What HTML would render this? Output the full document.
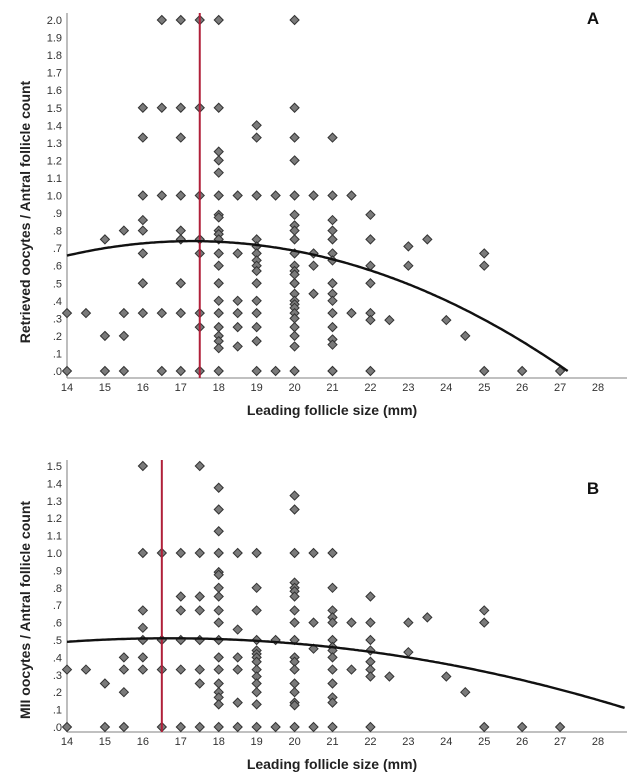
<!DOCTYPE html>
<html><head><meta charset="utf-8"><style>
html,body{margin:0;padding:0;background:#fff;}
svg{display:block;font-family:"Liberation Sans",sans-serif;}
</style></head><body>
<svg id="fig" width="643" height="781" viewBox="0 0 643 781"></svg>
<script>
const xTicks=[14,15,16,17,18,19,20,21,22,23,24,25,26,27,28];
const yTicksA=[0,.1,.2,.3,.4,.5,.6,.7,.8,.9,1.0,1.1,1.2,1.3,1.4,1.5,1.6,1.7,1.8,1.9,2.0];
const yTicksB=[0,.1,.2,.3,.4,.5,.6,.7,.8,.9,1.0,1.1,1.2,1.3,1.4,1.5];
const aX=[14,14,14.5,15,15,15,15.5,15.5,15.5,15.5,16,16,16,16,16,16,16,16,16.5,16.5,16.5,16.5,16.5,17,17,17,17,17,17,17,17,17,17.5,17.5,17.5,17.5,17.5,17.5,17.5,17.5,
18,18,18,18,18,18,18,18,18,18,18,18,18,18,18,18,18,18,18,18,18,18.5,18.5,18.5,18.5,18.5,18.5,
19,19,19,19,19,19,19,19,19,19,19,19,19,19,19,19.5,19.5,
20,20,20,20,20,20,20,20,20,20,20,20,20,20,20,20,20,20,20,20,20,20,20,20,20,20.5,20.5,20.5,20.5,
21,21,21,21,21,21,21,21,21,21,21,21,21,21,21,21,21.5,21.5,22,22,22,22,22,22,22,22.5,23,23,23.5,24,24.5,25,25,25,26,27];
const aY=[.33,0,.33,.75,.2,0,.8,.33,.2,0,1.5,1.33,1.0,.86,.8,.67,.5,.33,2.0,1.5,1.0,.33,0,2.0,1.5,1.33,1.0,.8,.75,.5,.33,0,2.0,1.5,1.0,.75,.67,.33,.25,0,
2.0,1.5,1.25,1.2,1.13,1.0,.89,.875,.8,.78,.75,.67,.6,.5,.4,.33,.25,.2,.17,.13,0,1.0,.67,.4,.33,.25,.14,
1.4,1.33,1.0,.75,.71,.67,.63,.6,.57,.5,.4,.33,.25,.17,0,1.0,0,
2.0,1.5,1.33,1.2,1.0,.89,.83,.8,.75,.67,.6,.57,.55,.5,.5,.44,.4,.38,.36,.33,.3,.25,.2,.14,0,1.0,.67,.6,.44,
1.33,1.0,.86,.8,.75,.67,.63,.5,.44,.4,.33,.25,.18,.15,0,0,1.0,.33,.89,.75,.6,.5,.33,.29,0,.29,.71,.6,.75,.29,.2,.67,.6,0,0,0];
const bX=[14,14,14.5,15,15,15.5,15.5,15.5,15.5,16,16,16,16,16,16,16,16.5,16.5,16.5,16.5,17,17,17,17,17,17,17.5,17.5,17.5,17.5,17.5,17.5,17.5,17.5,
18,18,18,18,18,18,18,18,18,18,18,18,18,18,18,18,18,18,18.5,18.5,18.5,18.5,18.5,18.5,
19,19,19,19,19,19,19,19,19,19,19,19,19,19,19.5,19.5,
20,20,20,20,20,20,20,20,20,20,20,20,20,20,20,20,20,20,20.5,20.5,20.5,20.5,
21,21,21,21,21,21,21,21,21,21,21,21,21,21,21.5,21.5,22,22,22,22,22,22,22,22,22.5,23,23,23.5,24,24.5,25,25,25,26,27];
const bY=[.33,0,.33,.25,0,.4,.33,.2,0,1.5,1.0,.67,.57,.5,.4,.33,1.0,.5,.33,0,1.0,.75,.67,.5,.33,0,1.5,1.0,.75,.67,.5,.33,.25,0,
1.375,1.25,1.125,1.0,.89,.875,.8,.75,.67,.6,.5,.4,.33,.25,.2,.17,.13,0,1.0,.56,.4,.33,.14,0,
1.0,.8,.67,.5,.44,.42,.4,.375,.33,.29,.25,.2,.13,0,.5,0,
1.33,1.25,1.0,.83,.8,.78,.75,.67,.6,.5,.4,.375,.33,.25,.2,.14,.125,0,1.0,.6,.45,0,
1.0,.8,.67,.63,.6,.5,.46,.44,.4,.33,.25,.17,.14,0,.6,.33,.75,.6,.5,.44,.375,.33,.29,0,.29,.6,.43,.63,.29,.2,.67,.6,0,0,0];
const fitA=[-0.00755,17.3,0.74];
const fitB=[-0.00278,16.7,0.51];
const cutA=17.5, cutB=16.5;

const NS="http://www.w3.org/2000/svg";
const svg=document.getElementById('fig');
function mk(t,attrs,parent){const e=document.createElementNS(NS,t);for(const k in attrs)e.setAttribute(k,attrs[k]);(parent||svg).appendChild(e);return e;}
const sx=v=>67+(v-14)*37.93;

function panel(cfg){
  const g=mk('g',{});
  
  
  const sy=v=>cfg.y0-v*cfg.k;
  const ya=mk('line',{x1:67,y1:cfg.top,x2:67,y2:cfg.axis,stroke:'#9a9a9a','stroke-width':1.3},g);
  
  const xa=mk('line',{x1:67,y1:cfg.axis,x2:627,y2:cfg.axis,stroke:'#9a9a9a','stroke-width':1.3},g);
  
  cfg.yt.forEach(v=>{
    const t=mk('text',{x:62,y:sy(v)+4,'text-anchor':'end','font-size':11,fill:'#333'},g);
    t.textContent=(v>=1?v.toFixed(1):'.'+Math.round(v*10));
    
  });
  xTicks.forEach(v=>{
    const t=mk('text',{x:sx(v),y:cfg.axis+13,'text-anchor':'middle','font-size':11,fill:'#333'},g);
    t.textContent=v;
    
  });
  const xt=mk('text',{x:332,y:cfg.axis+37,'text-anchor':'middle','font-size':14,'font-weight':'bold',fill:'#222'},g);
  xt.textContent='Leading follicle size (mm)';
  
  const yt=mk('text',{x:0,y:0,'text-anchor':'middle','font-size':14,'font-weight':'bold',fill:'#222',transform:`translate(30,${cfg.ymid}) rotate(-90)`},g);
  yt.textContent=cfg.ytitle;
  
  const lab=mk('text',{x:593,y:cfg.labY,'text-anchor':'middle','font-size':17,'font-weight':'bold',fill:'#111'},g);
  lab.textContent=cfg.label;
  
  cfg.xs.forEach((x,i)=>{
    const cx=sx(x),cy=sy(cfg.ys[i]),r=4.5;
    const p=mk('polygon',{points:`${cx},${cy-r} ${cx+r},${cy} ${cx},${cy+r} ${cx-r},${cy}`,fill:'#7a7a7a',stroke:'#333','stroke-width':1},g);
    
  });
  const rl=mk('line',{x1:sx(cfg.cut),y1:cfg.top,x2:sx(cfg.cut),y2:cfg.axis,stroke:'#b0203a','stroke-width':2},g);
  
  let d='';
  for(let x=14;x<=28.72;x+=0.05){
    const v=cfg.fit[0]*(x-cfg.fit[1])**2+cfg.fit[2];
    if(v<0)break;
    d+=(d?'L':'M')+sx(x).toFixed(1)+','+sy(v).toFixed(1);
  }
  const c=mk('path',{d:d,fill:'none',stroke:'#111','stroke-width':2.4},g);
  
}
panel({name:'panel-a',y0:371,k:175.5,top:13,axis:378,yt:yTicksA,xs:aX,ys:aY,cut:cutA,fit:fitA,
  ytitle:'Retrieved oocytes / Antral follicle count',ymid:212,label:'A',labY:24});
panel({name:'panel-b',y0:727,k:174,top:460,axis:732,yt:yTicksB,xs:bX,ys:bY,cut:cutB,fit:fitB,
  ytitle:'MII oocytes / Antral follicle count',ymid:610,label:'B',labY:494});
</script>
</body></html>
